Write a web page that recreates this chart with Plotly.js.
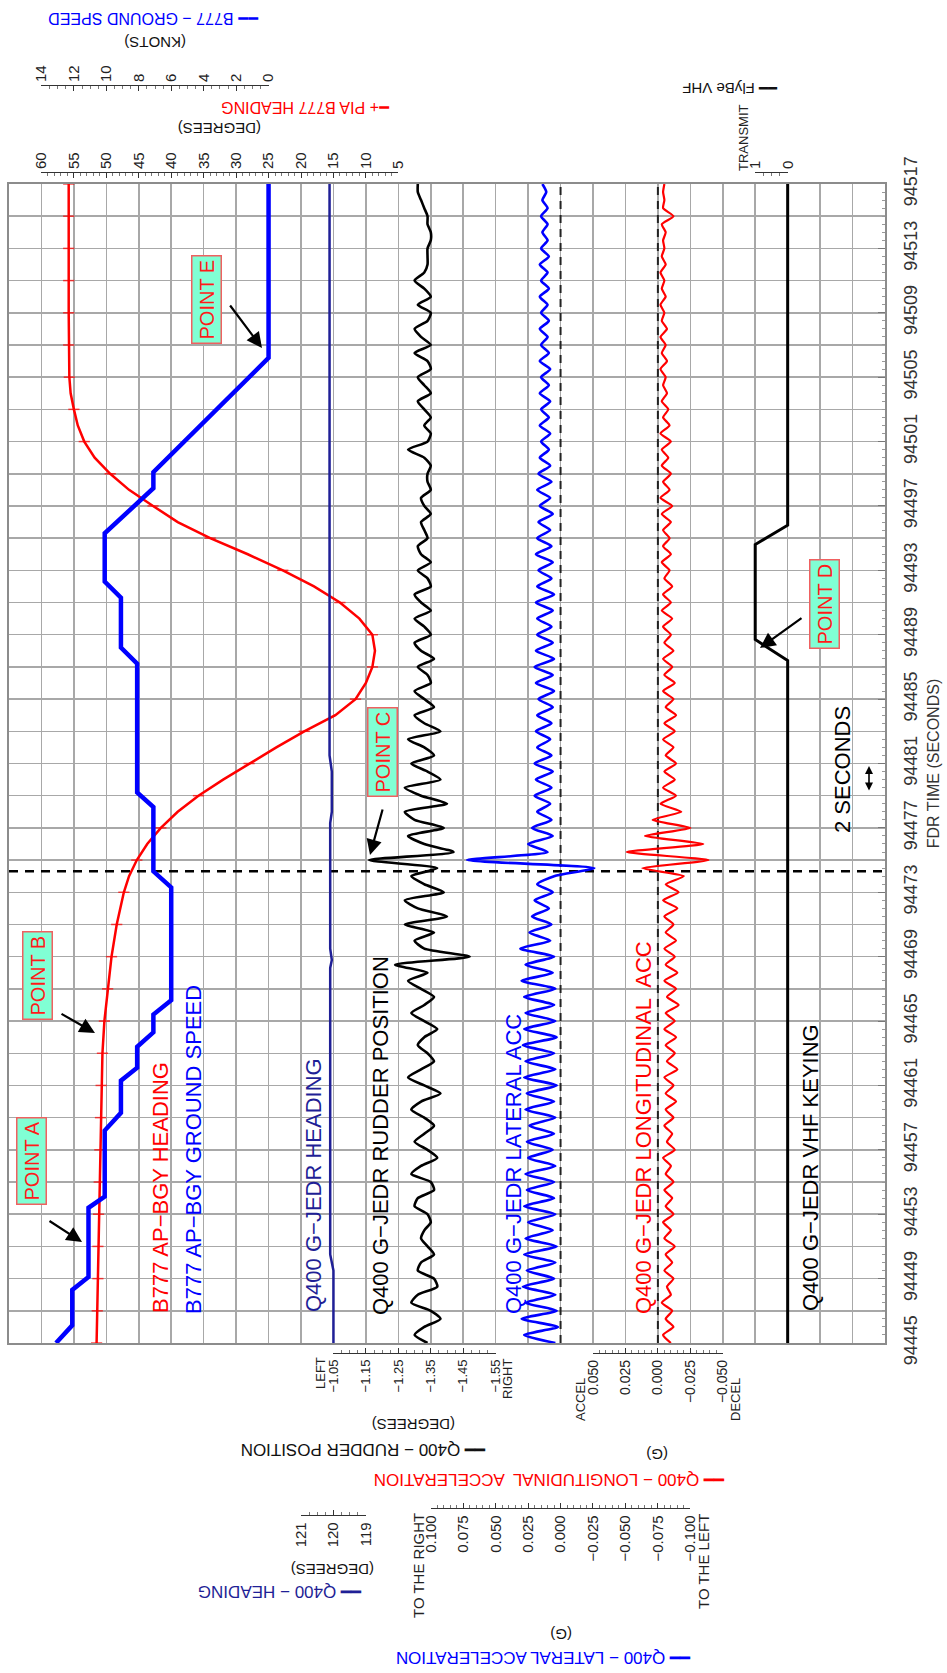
<!DOCTYPE html>
<html>
<head>
<meta charset="utf-8">
<script src="https://cdn.plot.ly/plotly-3.0.1.min.js"></script>
<style>html,body{margin:0;padding:0;background:#fff}#chart{width:947px;height:1673px}</style>
</head>
<body>
<div id="chart"></div>
<script>
// ---------------- DATA ----------------
const timeStart = 94445;
const timeEnd = 94517;
const timeLabels = [94445, 94449, 94453, 94457, 94461, 94465, 94469, 94473, 94477, 94481,
                    94485, 94489, 94493, 94497, 94501, 94505, 94509, 94513, 94517];
const eventTime = 94474.3;

// B777 AP-BGY heading (degrees)
const headTime = [94445, 94447, 94449, 94451, 94453, 94455, 94457, 94459, 94461, 94463, 94465, 94467, 94469, 94471,
  94472, 94473, 94474, 94475, 94476, 94477, 94478, 94479, 94480, 94481, 94482, 94483, 94484, 94485, 94486, 94487,
  94488, 94489, 94490, 94491, 94492, 94493, 94494, 94495, 94496, 94497, 94498, 94499, 94500, 94501, 94502, 94503,
  94504, 94505, 94507, 94509, 94511, 94513, 94515, 94517];
const headDeg = [51.5, 51.4, 51.3, 51.3, 51.2, 51.1, 51.0, 50.9, 50.8, 50.6, 50.3, 49.8, 49.2, 48.4,
  47.9, 47.3, 46.5, 45.3, 43.7, 41.6, 39.0, 35.8, 32.0, 28.0, 23.8, 19.5, 14.7, 11.6, 10.0, 9.0,
  8.6, 9.0, 11.0, 14.0, 18.0, 22.8, 28.2, 34.0, 39.0, 42.8, 46.5, 49.4, 51.8, 53.4, 54.4, 55.0,
  55.5, 55.7, 55.8, 55.8, 55.8, 55.8, 55.8, 55.8];

// B777 AP-BGY ground speed (knots)
const gsTime = [94445.0, 94446.1, 94448.3, 94449.1, 94453.4, 94454.1, 94458.2, 94459.3, 94461.3, 94462.1,
  94463.4, 94464.3, 94465.4, 94466.3, 94473.3, 94474.3, 94478.3, 94479.2, 94487.2, 94488.2,
  94491.3, 94492.3, 94495.3, 94497.5, 94498.1, 94499.1, 94506.2, 94517.0];
const gsKnots = [13.1, 12.1, 12.1, 11.1, 11.1, 10.1, 10.1, 9.1, 9.1, 8.1,
  8.1, 7.1, 7.1, 6.0, 6.0, 7.1, 7.1, 8.1, 8.1, 9.1,
  9.1, 10.1, 10.1, 7.8, 7.1, 7.1, 0.0, 0.0];

// Q400 G-JEDR heading (degrees)
const q400HeadTime = [94445, 94449.5, 94450.5, 94468.3, 94468.8, 94469.5, 94477.3, 94478, 94480.5, 94481.5, 94517];
const q400HeadDeg = [120.0, 120.0, 120.1, 120.1, 120.05, 120.1, 120.1, 120.05, 120.05, 120.12, 120.12];

// FDR parameters sampled every 0.5 s from 94445
const fdrStart = 94445;
const fdrStep = 0.5;
const rudderDeg = [
  -1.34, -1.30, -1.33, -1.38, -1.35, -1.29, -1.31, -1.37, -1.36, -1.31,
  -1.32, -1.36, -1.34, -1.32, -1.33, -1.35, -1.34, -1.30, -1.31, -1.36,
  -1.35, -1.29, -1.32, -1.37, -1.34, -1.30, -1.33, -1.36, -1.33, -1.29,
  -1.32, -1.38, -1.33, -1.28, -1.32, -1.36, -1.34, -1.31, -1.33, -1.37,
  -1.33, -1.29, -1.33, -1.36, -1.32, -1.28, -1.34, -1.24, -1.47, -1.33,
  -1.30, -1.36, -1.27, -1.40, -1.31, -1.27, -1.39, -1.33, -1.29, -1.37,
  -1.16, -1.42, -1.33, -1.28, -1.39, -1.30, -1.27, -1.40, -1.32, -1.27,
  -1.38, -1.34, -1.29, -1.36, -1.33, -1.28, -1.38, -1.33, -1.30, -1.36,
  -1.33, -1.30, -1.35, -1.34, -1.31, -1.36, -1.32, -1.30, -1.35, -1.33,
  -1.30, -1.35, -1.32, -1.30, -1.35, -1.34, -1.31, -1.35, -1.32, -1.31,
  -1.34, -1.33, -1.32, -1.35, -1.33, -1.32, -1.35, -1.34, -1.34, -1.35,
  -1.33, -1.28, -1.34, -1.35, -1.33, -1.35, -1.33, -1.31, -1.35, -1.33,
  -1.31, -1.35, -1.34, -1.30, -1.35, -1.32, -1.30, -1.34, -1.35, -1.31,
  -1.35, -1.33, -1.30, -1.33, -1.34, -1.34, -1.34, -1.35, -1.35, -1.34,
  -1.34, -1.33, -1.32, -1.31, -1.31];
const latAccG = [
  0.004, 0.028, 0.002, 0.030, 0.003, 0.027, 0.004, 0.029, 0.005, 0.026,
  0.004, 0.028, 0.003, 0.027, 0.006, 0.025, 0.004, 0.028, 0.005, 0.026,
  0.005, 0.027, 0.004, 0.025, 0.006, 0.026, 0.005, 0.024, 0.004, 0.027,
  0.005, 0.026, 0.003, 0.028, 0.004, 0.027, 0.005, 0.029, 0.003, 0.028,
  0.004, 0.027, 0.005, 0.028, 0.004, 0.030, 0.006, 0.027, 0.005, 0.031,
  0.008, 0.024, 0.007, 0.022, 0.009, 0.020, 0.006, 0.018, 0.005, -0.026,
  0.072, 0.010, 0.025, 0.006, 0.022, 0.007, 0.018, 0.008, 0.020, 0.007,
  0.019, 0.006, 0.020, 0.007, 0.018, 0.008, 0.019, 0.007, 0.018, 0.006,
  0.017, 0.005, 0.019, 0.006, 0.020, 0.005, 0.019, 0.006, 0.018, 0.007,
  0.018, 0.006, 0.019, 0.005, 0.018, 0.007, 0.017, 0.006, 0.019, 0.007,
  0.018, 0.008, 0.017, 0.006, 0.016, 0.008, 0.018, 0.007, 0.017, 0.008,
  0.016, 0.009, 0.015, 0.008, 0.016, 0.009, 0.015, 0.008, 0.016, 0.009,
  0.015, 0.008, 0.016, 0.009, 0.015, 0.010, 0.016, 0.009, 0.015, 0.010,
  0.016, 0.009, 0.015, 0.010, 0.016, 0.009, 0.015, 0.010, 0.014, 0.010,
  0.015, 0.010, 0.014, 0.011, 0.014];
const lonAccG = [
  -0.010, -0.004, -0.012, -0.006, -0.011, -0.003, -0.010, -0.007, -0.012, -0.005,
  -0.011, -0.006, -0.013, -0.005, -0.010, -0.004, -0.012, -0.006, -0.011, -0.005,
  -0.012, -0.006, -0.010, -0.004, -0.013, -0.007, -0.011, -0.005, -0.012, -0.006,
  -0.014, -0.006, -0.012, -0.005, -0.015, -0.007, -0.013, -0.006, -0.014, -0.005,
  -0.013, -0.006, -0.016, -0.007, -0.014, -0.005, -0.015, -0.006, -0.013, -0.005,
  -0.014, -0.006, -0.012, -0.005, -0.015, -0.004, -0.016, -0.006, -0.020, 0.012,
  -0.039, 0.024, -0.035, 0.010, -0.025, 0.004, -0.018, -0.002, -0.014, -0.004,
  -0.013, -0.005, -0.014, -0.006, -0.012, -0.004, -0.013, -0.005, -0.014, -0.006,
  -0.012, -0.004, -0.013, -0.005, -0.011, -0.004, -0.012, -0.005, -0.010, -0.004,
  -0.011, -0.003, -0.010, -0.004, -0.011, -0.005, -0.009, -0.003, -0.010, -0.004,
  -0.009, -0.004, -0.010, -0.003, -0.011, -0.002, -0.009, -0.004, -0.010, -0.003,
  -0.008, -0.003, -0.010, -0.002, -0.009, -0.004, -0.008, -0.003, -0.007, -0.004,
  -0.006, -0.002, -0.007, -0.003, -0.006, -0.002, -0.007, -0.003, -0.005, -0.002,
  -0.006, -0.003, -0.005, -0.002, -0.006, -0.003, -0.005, -0.004, -0.006, -0.003,
  -0.012, -0.004, -0.005, -0.004, -0.005];

// Q400 VHF keying (0 / 1 = transmit)
const vhfTime = [94445, 94487.4, 94488.7, 94494.6, 94495.8, 94517];
const vhfKey = [0, 0, 1, 1, 0, 0];

// Scale tick values / labels
const headScaleVals = [60, 55, 50, 45, 40, 35, 30, 25, 20, 15, 10, 5];
const gsScaleVals = [14, 12, 10, 8, 6, 4, 2, 0];
const vhfScaleVals = [1, 0];
const q400ScaleVals = [121, 120, 119];
const rudderScaleVals = [-1.05, -1.15, -1.25, -1.35, -1.45, -1.55];
const rudderScaleText = ['\u22121.05', '\u22121.15', '\u22121.25', '\u22121.35', '\u22121.45', '\u22121.55'];
const latScaleVals = [0.1, 0.075, 0.05, 0.025, 0, -0.025, -0.05, -0.075, -0.1];
const latScaleText = ['0.100', '0.075', '0.050', '0.025', '0.000', '\u22120.025', '\u22120.050', '\u22120.075', '\u22120.100'];
const lonScaleVals = [0.05, 0.025, 0, -0.025, -0.05];
const lonScaleText = ['0.050', '0.025', '0.000', '\u22120.025', '\u22120.050'];

// ---------------- LAYOUT HELPERS ----------------
const W = 947, H = 1673;
const FONT = 'Liberation Sans, Arial, sans-serif';
const PX = v => v / W;
const PY = v => 1 - v / H;
const NCOL = 27, LEFT = 9, RIGHT = 885, TOP = 184, BOTTOM = 1343;
const colP = c => (LEFT + c * (RIGHT - LEFT) / NCOL) / W;
const fdrTime = rudderDeg.map((_, i) => fdrStart + i * fdrStep);

// trace axis range so that value v0 sits on grid column c0, each column = step
const colRange = (v0, c0, step) => [v0 - c0 * step, v0 + (NCOL - c0) * step];

const RED = '#ff0000', BLUE = '#0000ff', NAVY = '#1f1f96', BLACK = '#000000';

const traces = [
  {x: [0, NCOL], y: [eventTime, eventTime], xaxis: 'x', yaxis: 'y', mode: 'lines',
   line: {color: BLACK, width: 2.5, dash: '9px,7px'}, hoverinfo: 'skip'},
  {x: [null], y: [null], xaxis: 'x', yaxis: 'y2', mode: 'lines', hoverinfo: 'skip'},
  {x: [0, 0], y: [timeStart, timeEnd], xaxis: 'x6', yaxis: 'y', mode: 'lines',
   line: {color: '#222', width: 2, dash: '8px,6px'}, hoverinfo: 'skip'},
  {x: [0, 0], y: [timeStart, timeEnd], xaxis: 'x7', yaxis: 'y', mode: 'lines',
   line: {color: '#222', width: 2, dash: '8px,6px'}, hoverinfo: 'skip'},
  {x: q400HeadDeg, y: q400HeadTime, xaxis: 'x4', yaxis: 'y', mode: 'lines',
   line: {color: NAVY, width: 2.5}},
  {x: headDeg, y: headTime, xaxis: 'x2', yaxis: 'y', mode: 'lines+markers',
   line: {color: RED, width: 2.5},
   marker: {symbol: 'line-ew', color: RED, size: headTime.map(t => ((t - timeStart) % 2 === 0) ? 8 : 0),
            line: {color: RED, width: 1.5}}},
  {x: gsKnots, y: gsTime, xaxis: 'x3', yaxis: 'y', mode: 'lines',
   line: {color: BLUE, width: 4.5}},
  {x: rudderDeg, y: fdrTime, xaxis: 'x5', yaxis: 'y', mode: 'lines',
   line: {color: BLACK, width: 2.6, shape: 'spline', smoothing: 0.6}},
  {x: latAccG, y: fdrTime, xaxis: 'x6', yaxis: 'y', mode: 'lines',
   line: {color: BLUE, width: 2.6, shape: 'spline', smoothing: 0.6}},
  {x: lonAccG, y: fdrTime, xaxis: 'x7', yaxis: 'y', mode: 'lines',
   line: {color: RED, width: 2.2, shape: 'spline', smoothing: 0.5}},
  {x: vhfKey, y: vhfTime, xaxis: 'x8', yaxis: 'y', mode: 'lines',
   line: {color: BLACK, width: 3}}
];
// placeholder traces so that every scale axis gets its subplot
['x9', 'x10', 'x11', 'x12', 'x13', 'x14', 'x15'].forEach(a => {
  traces.push({x: [null], y: [null], xaxis: a, yaxis: 'y', mode: 'lines', hoverinfo: 'skip'});
});

const traceAxis = r => ({overlaying: 'x', range: r, visible: false, fixedrange: true});

function scaleAxis(c0, c1, range, vals, texts, side, yPix, minorDtick, fsize) {
  return {
    domain: [colP(c0), colP(c1)], range: range, anchor: 'free', position: PY(yPix), side: side,
    tickmode: 'array', tickvals: vals, ticktext: texts, tickangle: -90,
    showline: true, linecolor: '#333', linewidth: 1.3,
    ticks: 'inside', ticklen: 5, tickwidth: 1, tickcolor: '#333',
    minor: {tickmode: 'linear', tick0: 0, dtick: minorDtick, ticks: 'inside', ticklen: 3, tickwidth: 0.8, tickcolor: '#555'},
    showgrid: false, zeroline: false, fixedrange: true,
    tickfont: {family: FONT, size: fsize || 15, color: '#222'}
  };
}

function ann(text, x, y, o) {
  return Object.assign({text: text, x: PX(x), y: PY(y), xref: 'paper', yref: 'paper', showarrow: false,
    xanchor: 'center', yanchor: 'middle', font: {family: FONT, size: 16, color: '#111'}}, o || {});
}
function arrow(hx, hy, tx, ty) {
  return {text: '', x: PX(hx), y: PY(hy), xref: 'paper', yref: 'paper', showarrow: true,
    ax: tx - hx, ay: ty - hy, axref: 'pixel', ayref: 'pixel',
    arrowhead: 2, arrowsize: 1.4, arrowwidth: 2.2, arrowcolor: '#000', standoff: 0};
}
function pointBox(text, x, y) {
  return ann(text, x, y, {textangle: -90, bgcolor: '#80ffd4', bordercolor: '#f06060', borderwidth: 1.5,
    borderpad: 3, font: {family: FONT, size: 20, color: '#ff1a1a'}});
}
const inplot = (text, x, y, color) => ann(text, x, y, {textangle: -90, font: {family: FONT, size: 22, color: color}});
const flip = (text, x, y, color, size) => ann(text, x, y, {textangle: 180, font: {family: FONT, size: size || 16, color: color}});
const vtext = (text, x, y, size) => ann(text, x, y, {textangle: -90, font: {family: FONT, size: size || 15, color: '#222'}});

const annotations = [
  // labels inside the plot
  inplot('B777 AP\u2212BGY HEADING', 160, 1188, RED),
  inplot('B777 AP\u2212BGY GROUND SPEED', 193, 1150, BLUE),
  inplot('Q400 G\u2212JEDR HEADING', 313, 1185, NAVY),
  inplot('Q400 G\u2212JEDR RUDDER POSITION', 380, 1136, BLACK),
  inplot('Q400 G\u2212JEDR LATERAL ACC', 513, 1164, BLUE),
  inplot('Q400 G\u2212JEDR LONGITUDINAL  ACC', 643, 1128, RED),
  inplot('Q400 G\u2212JEDR VHF KEYING', 810, 1168, BLACK),
  inplot('2 SECONDS', 842, 770, BLACK),
  // point callouts
  pointBox('POINT A', 31, 1161),
  pointBox('POINT B', 37, 976),
  pointBox('POINT C', 382, 752),
  pointBox('POINT D', 825, 604),
  pointBox('POINT E', 207, 300),
  arrow(82, 1242, 48, 1220),
  arrow(95, 1033, 60, 1013),
  arrow(370, 855, 383, 808),
  arrow(760, 648, 803, 617),
  arrow(262, 348, 229, 304),
  // 2 seconds double arrow
  {text: '', x: PX(869), y: PY(766), xref: 'paper', yref: 'paper', showarrow: true, ax: 0, ay: 26,
   axref: 'pixel', ayref: 'pixel', arrowhead: 2, arrowside: 'end+start', arrowsize: 1, arrowwidth: 1.6,
   arrowcolor: '#000', standoff: 0, startstandoff: 0},
  // top legends (upside-down)
  flip('\u2501\u2501 B777 \u2212 GROUND SPEED', 154, 18, BLUE),
  flip('(KNOTS)', 155, 42, '#111', 15),
  flip('\u2501+ PIA B777 HEADING', 306, 108, RED),
  flip('(DEGREES)', 220, 129, '#111', 15),
  flip('\u2501\u2501 FlyBe VHF', 730, 88, '#111', 15),
  vtext('TRANSMIT', 744, 138, 13),
  // bottom legends
  vtext('LEFT', 320, 1373, 13),
  vtext('RIGHT', 507, 1379, 13),
  flip('(DEGREES)', 414, 1425, '#111', 15),
  flip('\u2501\u2501 Q400 \u2212 RUDDER POSITION', 364, 1450, '#111', 17),
  vtext('ACCEL', 580, 1400, 13),
  vtext('DECEL', 735, 1400, 13),
  flip('(G)', 657, 1455, '#111', 15),
  flip('\u2501\u2501 Q400 \u2212 LONGITUDINAL  ACCELERATION', 550, 1480, RED, 17),
  flip('(DEGREES)', 333, 1570, '#111', 15),
  flip('\u2501\u2501 Q400 \u2212 HEADING', 280, 1592, NAVY, 17),
  vtext('TO THE RIGHT', 418, 1566, 15),
  vtext('TO THE LEFT', 703, 1562, 15),
  flip('(G)', 561, 1635, '#111', 15),
  flip('\u2501\u2501 Q400 \u2212 LATERAL ACCELERATION', 544, 1658, BLUE, 17)
];

const layout = {
  width: W, height: H,
  margin: {l: 0, r: 0, t: 0, b: 0},
  paper_bgcolor: '#ffffff', plot_bgcolor: 'rgba(0,0,0,0)',
  showlegend: false,
  font: {family: FONT},
  xaxis: {domain: [PX(LEFT), PX(RIGHT)], range: [0, NCOL], tickmode: 'linear', tick0: 0, dtick: 1,
    showgrid: true, gridcolor: '#a8a8a8', gridwidth: 1.5, showticklabels: false, ticks: '',
    zeroline: false, showline: true, mirror: true, linecolor: '#8c8c8c', linewidth: 2, fixedrange: true},
  yaxis: {domain: [PY(BOTTOM), PY(TOP)], range: [timeStart, timeEnd], tickmode: 'array',
    tickvals: timeLabels, ticktext: timeLabels.map(String), side: 'right', tickangle: -90,
    showgrid: false, zeroline: false, showline: true, mirror: true, linecolor: '#8c8c8c', linewidth: 2,
    ticks: 'inside', ticklen: 7, tickcolor: '#777', ticklabelstandoff: 8,
    minor: {tickmode: 'linear', tick0: timeStart, dtick: 0.5, ticks: 'inside', ticklen: 3, tickcolor: '#999'},
    tickfont: {family: FONT, size: 18, color: '#333'},
    title: {text: 'FDR TIME (SECONDS)', font: {family: FONT, size: 16, color: '#333'}, standoff: 8},
    fixedrange: true},
  yaxis2: {overlaying: 'y', range: [timeStart, timeEnd], tickmode: 'linear', tick0: timeStart, dtick: 2,
    showgrid: true, gridcolor: '#a8a8a8', gridwidth: 1.5, showticklabels: false, ticks: '',
    zeroline: false, showline: false, side: 'right', fixedrange: true},
  xaxis2: traceAxis(colRange(60, 1, -5)),
  xaxis3: traceAxis(colRange(14, 1, -2)),
  xaxis4: traceAxis(colRange(121, 9, -1)),
  xaxis5: traceAxis(colRange(-1.05, 10, -0.1)),
  xaxis6: traceAxis(colRange(0, 17, -0.025)),
  xaxis7: traceAxis(colRange(0, 20, -0.025)),
  xaxis8: traceAxis(colRange(0, 24, -1)),
  xaxis9: scaleAxis(1, 12, [60, 5], headScaleVals, headScaleVals.map(String), 'top', 172, 1),
  xaxis10: scaleAxis(1, 8, [14, 0], gsScaleVals, gsScaleVals.map(String), 'top', 85, 0.5),
  xaxis11: scaleAxis(23, 24, [1, 0], vhfScaleVals, vhfScaleVals.map(String), 'top', 172, 0.25),
  xaxis12: scaleAxis(9, 11, [121, 119], q400ScaleVals, q400ScaleVals.map(String), 'bottom', 1515, 0.25),
  xaxis13: scaleAxis(10, 15, [-1.05, -1.55], rudderScaleVals, rudderScaleText, 'bottom', 1353, 0.025, 13),
  xaxis14: scaleAxis(13, 21, [0.1, -0.1], latScaleVals, latScaleText, 'bottom', 1508, 0.005),
  xaxis15: scaleAxis(18, 22, [0.05, -0.05], lonScaleVals, lonScaleText, 'bottom', 1353, 0.005, 14),
  annotations: annotations
};

Plotly.newPlot('chart', traces, layout, {staticPlot: true, displayModeBar: false});
</script>
</body>
</html>
